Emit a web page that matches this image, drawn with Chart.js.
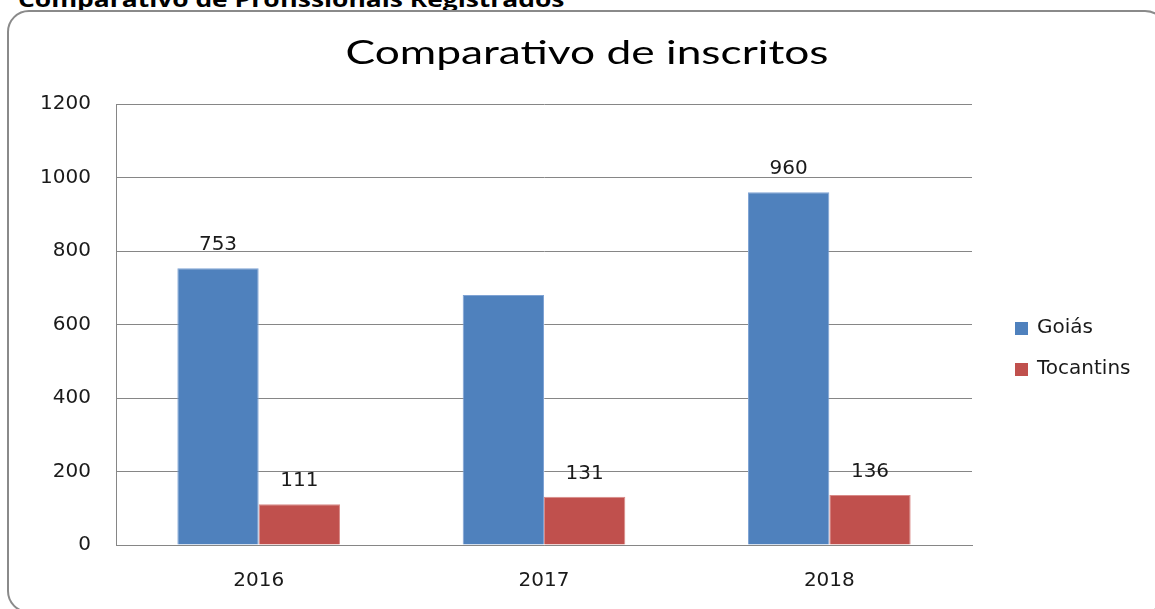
<!DOCTYPE html>
<html>
<head>
<meta charset="utf-8">
<script src="https://cdn.jsdelivr.net/npm/chart.js@4.4.1/dist/chart.umd.min.js"></script>
<style>
  html, body { margin: 0; padding: 0; background: #fff; overflow: hidden; }
  #wrap { position: relative; width: 1155px; height: 609px; overflow: hidden; }
  #header { position: absolute; left: 18px; top: -17px; font: bold 22px "Open Sans", sans-serif; color: #000; white-space: nowrap; transform-origin: 0 0; transform: scaleX(1.2); }
  #box { position: absolute; left: 7px; top: 10px; width: 1160px; height: 603px; border: 2px solid #8a8a8a; border-radius: 22px; box-sizing: border-box; box-shadow: 1px 1px 1px rgba(0,0,0,0.15); }
  #c { position: absolute; left: 0; top: 0; }
</style>
</head>
<body>
<div id="wrap">
  <div id="header">Comparativo de Profissionais Registrados</div>
  <div id="box"></div>
  <canvas id="c" width="1155" height="609"></canvas>
</div>
<script>
const categories = ['2016', '2017', '2018'];
const goiasValues = [753, 680, 960];
const tocantinsValues = [111, 131, 136];
const goiasShowLabel = [true, false, true];
const tocantinsShowLabel = [true, true, true];
const yTicks = [0, 200, 400, 600, 800, 1000, 1200];
const seriesNames = ['Goiás', 'Tocantins'];
const chartTitle = 'Comparativo de inscritos';

const BLUE = '#4F81BD';
const RED = '#C0504D';
const TICK_FONT = { family: 'DejaVu Sans', size: 20 };

const showFlags = [goiasShowLabel, tocantinsShowLabel];

const overlayPlugin = {
  id: 'overlay',
  afterDatasetsDraw(chart) {
    const ctx = chart.ctx;
    ctx.save();
    ctx.fillStyle = '#1a1a1a';
    ctx.font = '20px "DejaVu Sans"';
    ctx.textAlign = 'center';
    ctx.textBaseline = 'middle';
    chart.data.datasets.forEach((ds, di) => {
      const meta = chart.getDatasetMeta(di);
      meta.data.forEach((bar, i) => {
        if (!showFlags[di][i]) return;
        ctx.fillText(String(ds.data[i]), bar.x, bar.y - 23);
      });
    });
    ctx.restore();
  },
  afterDraw(chart) {
    const ctx = chart.ctx;
    ctx.save();
    // title, horizontally stretched like the reference
    ctx.fillStyle = '#000';
    ctx.font = '33px "Lato"';
    ctx.textAlign = 'center';
    ctx.textBaseline = 'middle';
    const w = ctx.measureText(chartTitle).width;
    const sx = 483 / w;
    ctx.translate(587, 53);
    ctx.scale(sx, 1);
    ctx.fillText(chartTitle, 0, 0);
    ctx.restore();
    // legend
    ctx.save();
    const colors = [BLUE, RED];
    const ys = [328, 369];
    ctx.font = '20px "DejaVu Sans"';
    ctx.textAlign = 'left';
    ctx.textBaseline = 'middle';
    seriesNames.forEach((n, i) => {
      ctx.fillStyle = colors[i];
      ctx.fillRect(1015, ys[i] - 6, 13, 13);
      ctx.fillStyle = '#1a1a1a';
      ctx.fillText(n, 1037, ys[i]);
    });
    ctx.restore();
  }
};

new Chart(document.getElementById('c'), {
  type: 'bar',
  data: {
    labels: categories,
    datasets: [
      { label: seriesNames[0], data: goiasValues, backgroundColor: BLUE, borderColor: '#7FA3D4', borderWidth: 1 },
      { label: seriesNames[1], data: tocantinsValues, backgroundColor: RED, borderColor: '#D98A88', borderWidth: 1 }
    ]
  },
  options: {
    responsive: false,
    animation: false,
    devicePixelRatio: 1,
    layout: { padding: { left: 0, right: 183, top: 104, bottom: 0 } },
    plugins: { legend: { display: false }, title: { display: false }, tooltip: { enabled: false } },
    datasets: { bar: { categoryPercentage: 0.57, barPercentage: 1.0 } },
    scales: {
      x: {
        grid: { display: false, drawTicks: false },
        border: { display: true, color: '#868686', width: 1 },
        ticks: { color: '#1a1a1a', font: TICK_FONT, padding: 24 },
        afterFit(scale) { scale.height = 64; }
      },
      y: {
        min: 0, max: 1200,
        afterBuildTicks(scale) { scale.ticks = yTicks.map(v => ({ value: v })); },
        grid: { color: '#868686', lineWidth: 1, drawTicks: false },
        border: { display: true, color: '#868686', width: 1 },
        ticks: { color: '#1a1a1a', font: TICK_FONT, padding: 25, callback: (v) => String(v) },
        afterFit(scale) { scale.width = 116; }
      }
    }
  },
  plugins: [overlayPlugin]
});
</script>
</body>
</html>
